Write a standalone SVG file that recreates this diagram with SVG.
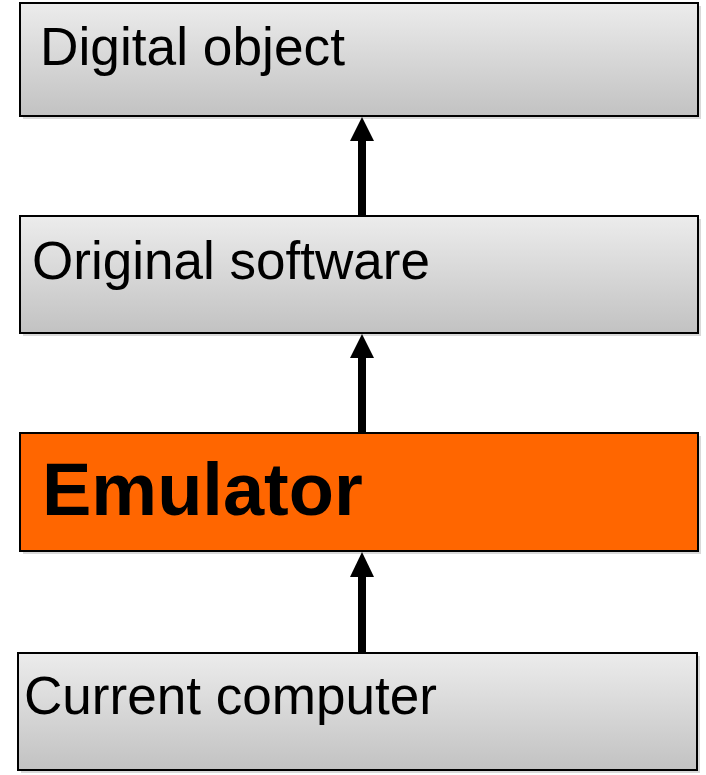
<svg xmlns="http://www.w3.org/2000/svg" width="706" height="775" viewBox="0 0 706 775">
<defs>
<linearGradient id="g" x1="0" y1="0" x2="0" y2="1">
<stop offset="0" stop-color="#ececec"/>
<stop offset="1" stop-color="#c2c2c2"/>
</linearGradient>
</defs>
<style>
.box{stroke:#000;stroke-width:2}
.sh{fill:#000;opacity:0.15}
.t{font-family:"Liberation Sans",Arial,sans-serif;font-size:53px;fill:#000}
.b{font-weight:bold;font-size:74px}
.c{stroke:#000;stroke-width:8;fill:none}
.h{fill:#000}
</style>
<rect width="706" height="775" fill="#fff"/>
<g id="n1">
<rect class="sh" x="23" y="6" width="678" height="113"/>
<rect class="box" x="20" y="3" width="678" height="113" fill="url(#g)"/>
<text class="t" x="40" y="65" style="font-size:53px" textLength="305" lengthAdjust="spacingAndGlyphs">Digital object</text>
</g>
<g id="n2">
<rect class="sh" x="23" y="219" width="678" height="117"/>
<rect class="box" x="20" y="216" width="678" height="117" fill="url(#g)"/>
<text class="t" x="32" y="279" textLength="398" lengthAdjust="spacingAndGlyphs">Original software</text>
</g>
<g id="n3">
<rect class="sh" x="23" y="436" width="678" height="118"/>
<rect class="box" x="20" y="433" width="678" height="118" fill="#ff6600"/>
<text class="t b" x="42" y="515">Emulator</text>
</g>
<g id="n4">
<rect class="sh" x="21" y="656" width="679" height="117"/>
<rect class="box" x="18" y="653" width="679" height="117" fill="url(#g)"/>
<text class="t" x="24" y="714" style="font-size:54px" textLength="413" lengthAdjust="spacingAndGlyphs">Current computer</text>
</g>
<g id="connectors">
<line class="c" x1="362" y1="216" x2="362" y2="140"/>
<polygon class="h" points="362,117 350,141 374,141"/>
<line class="c" x1="362" y1="433" x2="362" y2="358"/>
<polygon class="h" points="362,334 350,358 374,358"/>
<line class="c" x1="362" y1="653" x2="362" y2="577"/>
<polygon class="h" points="362,552 350,577 374,577"/>
</g>
</svg>
